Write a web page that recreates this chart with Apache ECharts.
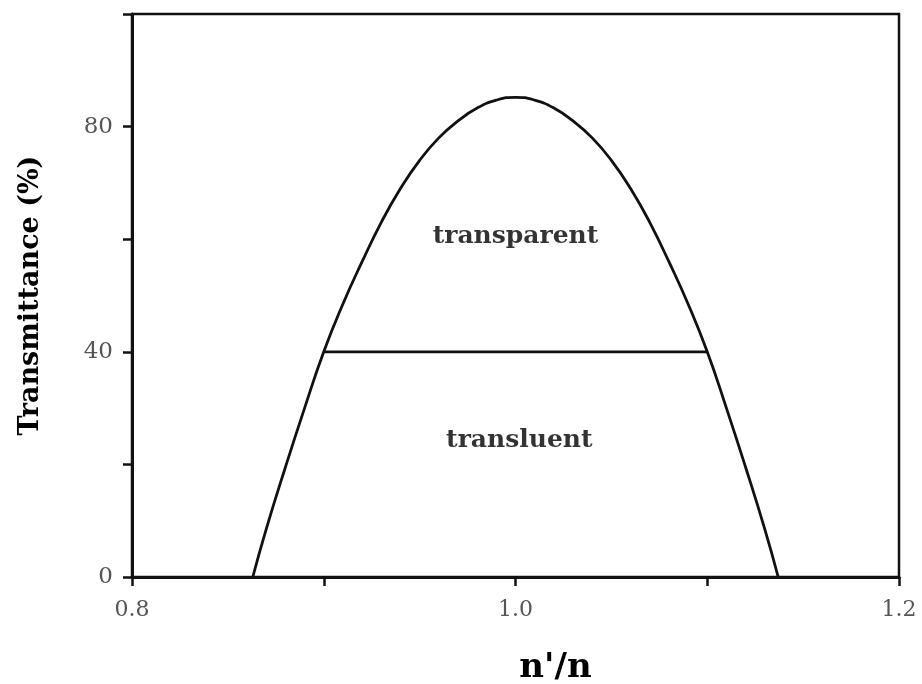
<!DOCTYPE html>
<html>
<head>
<meta charset="utf-8">
<script src="https://cdn.jsdelivr.net/npm/echarts@6/dist/echarts.min.js"></script>
<style>
html,body{margin:0;padding:0;background:#fff;}
#c{width:922px;height:684px;}
</style>
</head>
<body>
<div id="c"></div>
<script>
// Data
const curveX = [0.863, 0.87, 0.88, 0.89, 0.90, 0.91, 0.92, 0.93, 0.94, 0.95, 0.96, 0.97, 0.98, 0.99, 1.00, 1.01, 1.02, 1.03, 1.04, 1.05, 1.06, 1.07, 1.08, 1.09, 1.10, 1.11, 1.12, 1.13, 1.137];
const curveY = [0, 8.5, 19.5, 30, 40, 48.5, 56, 63, 69, 74, 78, 81, 83.3, 84.7, 85.2, 84.7, 83.3, 81, 78, 74, 69, 63, 56, 48.5, 40, 30, 19.5, 8.5, 0];
const boundaryX = [0.90, 1.10];
const boundaryY = [40, 40];
const regionNames = ['transparent', 'transluent'];
const regionX = [1.0, 1.002];
const regionY = [60.5, 24.2];
const xTitle = "n'/n";
const yTitle = 'Transmittance (%)';

const chart = echarts.init(document.getElementById('c'));
const serif = '"DejaVu Serif", "Liberation Serif", serif';
chart.setOption({
  animation: false,
  backgroundColor: '#fff',
  grid: {left: 132, right: 23, top: 14, bottom: 107, containLabel: false, outerBoundsMode: 'none',
    show: true, borderColor: '#111', borderWidth: 2.5},
  xAxis: {
    type: 'value', min: 0.8, max: 1.2, interval: 0.1,
    name: xTitle, nameLocation: 'middle', nameGap: 74,
    nameTextStyle: {fontFamily: serif, fontWeight: 'bold', fontSize: 34, color: '#000', padding: [0, 0, 0, 80]},
    axisLine: {show: true, lineStyle: {color: '#111', width: 3}},
    axisTick: {show: true, inside: false, length: 9, lineStyle: {color: '#111', width: 2.5}},
    axisLabel: {fontFamily: serif, fontSize: 22, color: '#555', margin: 22,
      formatter: v => (Math.round(v * 10) % 2 === 0 ? v.toFixed(1) : '')},
    splitLine: {show: false}
  },
  yAxis: {
    type: 'value', min: 0, max: 100, interval: 20,
    name: yTitle, nameLocation: 'middle', nameGap: 88,
    nameTextStyle: {fontFamily: serif, fontWeight: 'bold', fontSize: 27, color: '#000'},
    axisLine: {show: true, lineStyle: {color: '#111', width: 3}},
    axisTick: {show: true, inside: false, length: 9, lineStyle: {color: '#111', width: 2.5}},
    axisLabel: {fontFamily: serif, fontSize: 23, color: '#555', margin: 19,
      formatter: v => (v % 40 === 0 ? String(v) : '')},
    splitLine: {show: false}
  },
  series: [
    {
      type: 'line', smooth: true, symbol: 'none',
      data: curveX.map((x, i) => [x, curveY[i]]),
      lineStyle: {color: '#111', width: 2.8}
    },
    {
      type: 'line', symbol: 'none',
      data: boundaryX.map((x, i) => [x, boundaryY[i]]),
      lineStyle: {color: '#111', width: 2.8}
    },
    {
      type: 'scatter', symbolSize: 0,
      data: regionNames.map((n, i) => ({value: [regionX[i], regionY[i]], name: n})),
      label: {show: true, position: 'inside', formatter: p => p.name,
        fontFamily: serif, fontWeight: 'bold', fontSize: 25, color: '#000'}
    }
  ]
});
</script>
</body>
</html>
